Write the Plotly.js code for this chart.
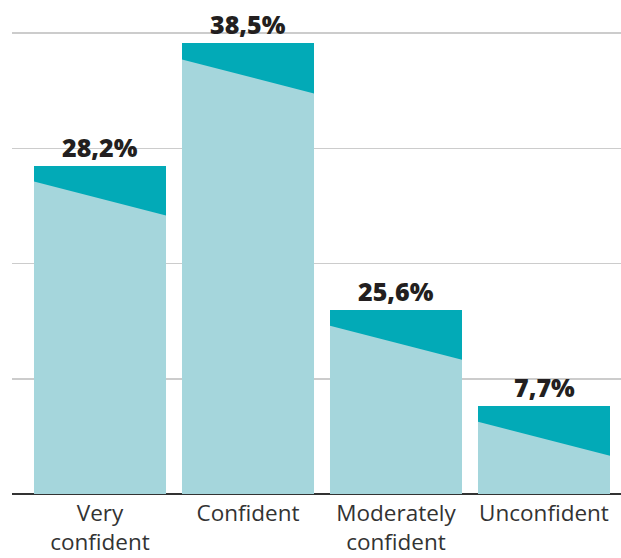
<!DOCTYPE html>
<html>
<head>
<meta charset="utf-8">
<script src="https://cdn.plot.ly/plotly-3.0.1.min.js"></script>
<style>html,body{margin:0;padding:0;background:#fff;}#chart{width:621px;height:558px;}</style>
</head>
<body>
<div id="chart"></div>
<script>
// Categories (tick labels)
const categories = ["Very<br>confident", "Confident", "Moderately<br>confident", "Unconfident"];
// Printed value labels
const valueLabels = ["28,2%", "38,5%", "25,6%", "7,7%"];
// Bar heights as drawn in the picture (gridlines every 10 units)
const heights = [28.5, 39.1, 16.0, 7.65];

const positions = categories.map((c, i) => i);
const barWidth = 0.892;
const slantLeft = 1.39;   // depth of dark band at bar's left edge
const slantRight = 4.34;  // depth of dark band at bar's right edge

const darkTeal = "#02AAB7";
const lightTeal = "#A5D6DC";

// Light lower part of each bar (polygon with slanted top)
const px = [], py = [];
positions.forEach((p, i) => {
  const l = p - barWidth / 2, r = p + barWidth / 2, h = heights[i];
  px.push(l, l, r, r, l, null);
  py.push(0, h - slantLeft, h - slantRight, 0, 0, null);
});

const traces = [
  {
    type: "bar",
    x: positions,
    y: heights,
    width: barWidth,
    marker: {color: darkTeal, line: {width: 0}},
    hoverinfo: "skip"
  },
  {
    type: "scatter",
    mode: "lines",
    x: px,
    y: py,
    fill: "toself",
    fillcolor: lightTeal,
    line: {width: 0, color: lightTeal},
    hoverinfo: "skip",
    connectgaps: false
  }
];

const annotations = positions.map((p, i) => ({
  x: p, y: heights[i], xref: "x", yref: "y",
  text: valueLabels[i], showarrow: false,
  yanchor: "bottom", yshift: 0,
  font: {family: "Open Sans", size: 25, color: "#231F20", weight: 800}
}));

const layout = {
  width: 621, height: 558,
  margin: {l: 12, r: 0, t: 20, b: 64},
  paper_bgcolor: "#fff", plot_bgcolor: "#fff",
  showlegend: false,
  bargap: 0,
  xaxis: {
    range: [-0.5946, 3.5203],
    tickvals: positions,
    ticktext: categories,
    showgrid: false, zeroline: false,
    showline: false, ticks: "",
    ticklabelstandoff: 3,
    tickfont: {family: "Open Sans", size: 22.5, color: "#333333"},
    fixedrange: true
  },
  yaxis: {
    range: [0, 41.13],
    dtick: 10, tick0: 0,
    showticklabels: false,
    showgrid: true, gridcolor: "#CCCCCC", gridwidth: 1.5,
    zeroline: true, zerolinecolor: "#333333", zerolinewidth: 2,
    showline: false, ticks: "",
    fixedrange: true
  },
  annotations: annotations
};

Plotly.newPlot("chart", traces, layout, {staticPlot: true, displayModeBar: false});
</script>
</body>
</html>
